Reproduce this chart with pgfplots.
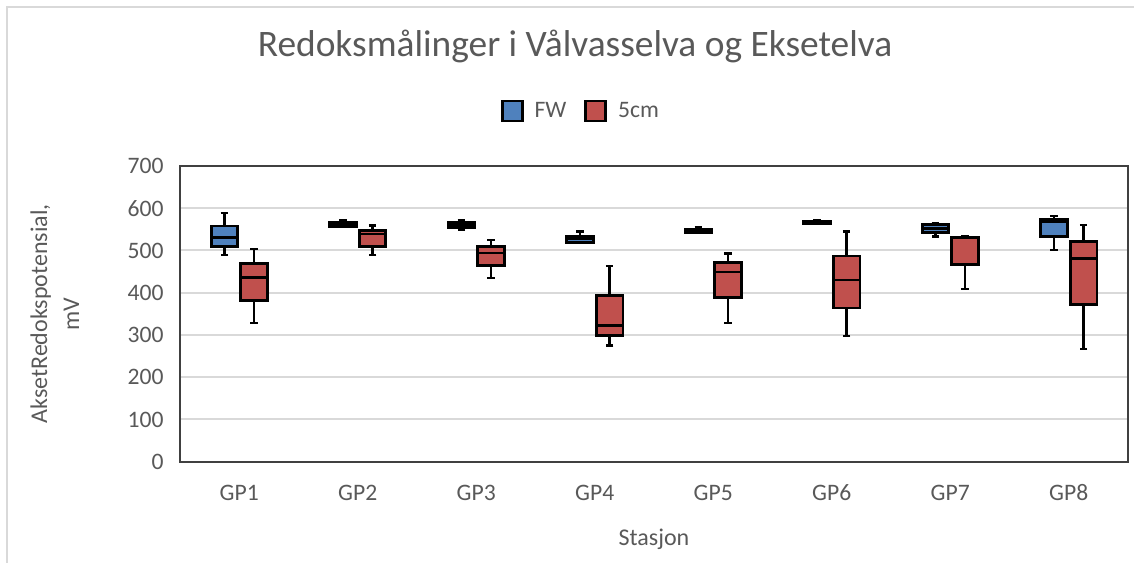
\documentclass[border=0pt]{standalone}
\usepackage{fontspec}
\setmainfont{Carlito}
\usepackage{pgfplots}
\usepackage{pgfplotstable}
\pgfplotsset{compat=1.18}
\definecolor{fwblue}{HTML}{4F81BD}
\definecolor{cmred}{HTML}{C0504D}
\definecolor{txt}{HTML}{595959}
\definecolor{gridc}{HTML}{D9D9D9}
\definecolor{framec}{HTML}{404040}
% columns: position, lower whisker, lower quartile, median, upper quartile, upper whisker
\pgfplotstableread{
x      lw  q1  med q3  uw
0.875  489 509 530 558 588
1.875  556 557 562 566 572
2.875  549 554 560 566 572
3.875  517 519 527 533 545
4.875  542 543 547 551 555
5.875  563 564 567 570 571
6.875  533 543 552 561 566
7.875  501 534 569 574 582
}\fwdata
\pgfplotstableread{
x      lw  q1  med q3  uw
1.125  329 381 436 469 504
2.125  489 510 539 547 559
3.125  434 464 494 510 525
4.125  275 298 323 393 464
5.125  329 389 449 472 493
6.125  297 364 430 487 545
7.125  408 467 530 531 533
8.125  266 373 481 521 561
}\cmdata
\pgfplotsset{
  whisk/.style={draw=none, mark=none, forget plot,
    error bars/.cd, y dir=both, y explicit, error mark=|,
    error bar style={black, line width=1.1bp},
    error mark options={black, line width=1.1bp, mark size=1.9bp}},
  fwb/.style={draw=black, line width=1.4bp, fill=fwblue, forget plot, mark=none},
  cmb/.style={draw=black, line width=1.4bp, fill=cmred, forget plot, mark=none},
  med/.style={only marks, mark=-, mark size=6.4bp, mark options={black, line width=1.4bp}, forget plot},
}
\begin{document}
\begin{tikzpicture}
\begin{axis}[
  scale only axis,
  width=474bp, height=147.85bp,
  xmin=0.5, xmax=8.5, ymin=0, ymax=700,
  xtick={1,2,3,4,5,6,7,8},
  xticklabels={GP1,GP2,GP3,GP4,GP5,GP6,GP7,GP8},
  ytick={0,100,200,300,400,500,600,700},
  /pgf/number format/assume math mode=true,
  major tick length=0pt,
  ymajorgrids, grid style={gridc, line width=1bp},
  axis line style={framec, line width=1bp},
  tick label style={font=\fontsize{11.8bp}{14bp}\selectfont, text=txt},
  xticklabel style={anchor=base, inner sep=0pt, yshift=-19.6bp},
  yticklabel style={anchor=east, inner sep=0pt, xshift=-8bp},
  xlabel={Stasjon},
  xlabel style={at={(axis description cs:0.5,-0.285)}, anchor=base, font=\fontsize{12bp}{14bp}\selectfont, text=txt},
  ylabel={AksetRedokspotensial,\\mV},
  ylabel style={at={(axis description cs:-0.132,0.5)}, anchor=center, align=center, font=\fontsize{12bp}{16bp}\selectfont, text=txt},
  legend columns=2,
  legend style={draw=none, fill=none, at={(axis description cs:0.424,1.186)}, anchor=center,
    font=\fontsize{11.8bp}{14bp}\selectfont, text=txt,
    /tikz/every even column/.append style={column sep=7bp}},
  legend cell align=left,
]
% whiskers
\addplot[whisk] table[x=x, y=med, y error plus expr=\thisrow{uw}-\thisrow{med}, y error minus expr=\thisrow{med}-\thisrow{lw}] {\fwdata};
\addplot[whisk] table[x=x, y=med, y error plus expr=\thisrow{uw}-\thisrow{med}, y error minus expr=\thisrow{med}-\thisrow{lw}] {\cmdata};
% FW boxes (q1 to q3)
\addplot[fwb] coordinates {(0.7625,509) (0.9875,509) (0.9875,558) (0.7625,558)} -- cycle;
\addplot[fwb] coordinates {(1.7625,557) (1.9875,557) (1.9875,566) (1.7625,566)} -- cycle;
\addplot[fwb] coordinates {(2.7625,554) (2.9875,554) (2.9875,566) (2.7625,566)} -- cycle;
\addplot[fwb] coordinates {(3.7625,519) (3.9875,519) (3.9875,533) (3.7625,533)} -- cycle;
\addplot[fwb] coordinates {(4.7625,543) (4.9875,543) (4.9875,551) (4.7625,551)} -- cycle;
\addplot[fwb] coordinates {(5.7625,564) (5.9875,564) (5.9875,570) (5.7625,570)} -- cycle;
\addplot[fwb] coordinates {(6.7625,543) (6.9875,543) (6.9875,561) (6.7625,561)} -- cycle;
\addplot[fwb] coordinates {(7.7625,534) (7.9875,534) (7.9875,574) (7.7625,574)} -- cycle;
% 5cm boxes
\addplot[cmb] coordinates {(1.0125,381) (1.2375,381) (1.2375,469) (1.0125,469)} -- cycle;
\addplot[cmb] coordinates {(2.0125,510) (2.2375,510) (2.2375,547) (2.0125,547)} -- cycle;
\addplot[cmb] coordinates {(3.0125,464) (3.2375,464) (3.2375,510) (3.0125,510)} -- cycle;
\addplot[cmb] coordinates {(4.0125,298) (4.2375,298) (4.2375,393) (4.0125,393)} -- cycle;
\addplot[cmb] coordinates {(5.0125,389) (5.2375,389) (5.2375,472) (5.0125,472)} -- cycle;
\addplot[cmb] coordinates {(6.0125,364) (6.2375,364) (6.2375,487) (6.0125,487)} -- cycle;
\addplot[cmb] coordinates {(7.0125,467) (7.2375,467) (7.2375,531) (7.0125,531)} -- cycle;
\addplot[cmb] coordinates {(8.0125,373) (8.2375,373) (8.2375,521) (8.0125,521)} -- cycle;
% medians
\addplot[med] table[x=x, y=med] {\fwdata};
\addplot[med] table[x=x, y=med] {\cmdata};
\addlegendimage{legend image code/.code={\draw[draw=black, line width=1.3bp, fill=fwblue] (0bp,-5bp) rectangle (10bp,5bp); \path (14bp,0bp);}}
\addlegendentry{FW}
\addlegendimage{legend image code/.code={\draw[draw=black, line width=1.3bp, fill=cmred] (0bp,-5bp) rectangle (10bp,5bp); \path (14bp,0bp);}}
\addlegendentry{5cm}
\coordinate (SW) at (rel axis cs:0,0);
\coordinate (NE) at (rel axis cs:1,1);
\coordinate (TL) at (rel axis cs:0,1);
\end{axis}
\draw[gridc, line width=1bp] ([xshift=-86.5bp,yshift=-60bp]SW) -- ([xshift=-86.5bp,yshift=79.5bp]TL) -- ([xshift=10bp,yshift=79.5bp]NE);
\node[anchor=base, font=\fontsize{18.7bp}{22bp}\selectfont, text=txt] at ([xshift=197.5bp,yshift=54.5bp]TL) {Redoksmålinger i Vålvasselva og Eksetelva};
\pgfresetboundingbox
\path ([xshift=-90bp,yshift=-50.15bp]SW) rectangle ([xshift=3bp,yshift=83bp]NE);
\end{tikzpicture}
\end{document}
